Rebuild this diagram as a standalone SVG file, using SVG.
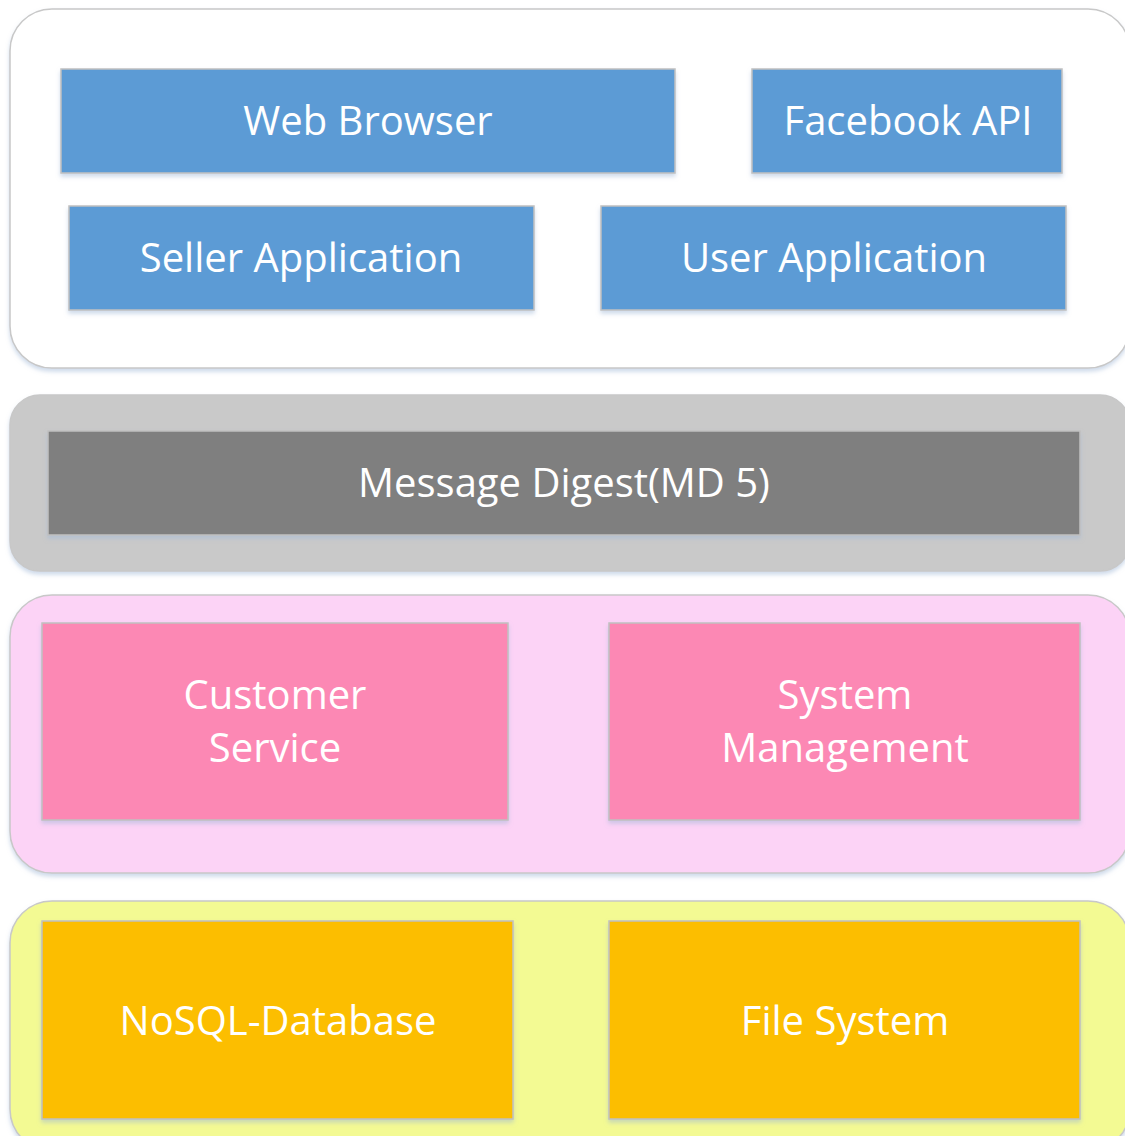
<svg xmlns="http://www.w3.org/2000/svg" width="1125" height="1136" viewBox="0 0 1125 1136">
<defs>
<filter id="sh" x="-5%" y="-5%" width="110%" height="115%">
<feDropShadow dx="0" dy="3" stdDeviation="2" flood-color="#9fb6d6" flood-opacity="0.5"/>
</filter>
</defs>
<style>
.layer{stroke:#c8c8c8;stroke-width:1.5;filter:url(#sh)}
.box{stroke:#c0c0c0;stroke-width:1.5;filter:url(#sh)}
.t{font-family:"Open Sans","Liberation Sans",sans-serif;font-size:40px;fill:#ffffff;text-anchor:middle;dominant-baseline:central}
</style>
<rect width="1125" height="1136" fill="#ffffff"/>
<g id="layer-client">
<rect class="layer" x="10" y="9" width="1120" height="359" rx="42" fill="#ffffff"/>
</g>
<g id="layer-security">
<rect class="layer" x="10" y="395" width="1120" height="176" rx="30" fill="#c9c9c9" stroke="#c9c9c9"/>
</g>
<g id="layer-service">
<rect class="layer" x="10" y="595" width="1120" height="278" rx="42" fill="#fcd3f6"/>
</g>
<g id="layer-storage">
<rect class="layer" x="10" y="901" width="1120" height="250" rx="42" fill="#f3fa93"/>
</g>
<g id="web-browser">
<rect class="box" x="61" y="69" width="614" height="104" fill="#5b9bd5"/>
<text class="t" x="368" y="119">Web Browser</text>
</g>
<g id="facebook-api">
<rect class="box" x="752" y="69" width="310" height="104" fill="#5b9bd5"/>
<text class="t" x="908" y="119">Facebook API</text>
</g>
<g id="seller-application">
<rect class="box" x="69" y="206" width="465" height="104" fill="#5b9bd5"/>
<text class="t" x="301" y="256">Seller Application</text>
</g>
<g id="user-application">
<rect class="box" x="601" y="206" width="465" height="104" fill="#5b9bd5"/>
<text class="t" x="834" y="256">User Application</text>
</g>
<g id="message-digest">
<rect class="box" x="48" y="431" width="1032" height="104" fill="#7f7f7f"/>
<text class="t" x="564" y="481">Message Digest(MD 5)</text>
</g>
<g id="customer-service">
<rect class="box" x="42" y="623" width="466" height="197" fill="#fc88b4"/>
<text class="t" x="275" y="693">Customer</text>
<text class="t" x="275" y="746">Service</text>
</g>
<g id="system-management">
<rect class="box" x="609" y="623" width="471" height="197" fill="#fc88b4"/>
<text class="t" x="845" y="693">System</text>
<text class="t" x="845" y="746">Management</text>
</g>
<g id="nosql-database">
<rect class="box" x="42" y="921" width="471" height="198" fill="#fcbe00"/>
<text class="t" x="278" y="1019">NoSQL-Database</text>
</g>
<g id="file-system">
<rect class="box" x="609" y="921" width="471" height="198" fill="#fcbe00"/>
<text class="t" x="845" y="1019">File System</text>
</g>
<g id="connectors"></g>
</svg>
